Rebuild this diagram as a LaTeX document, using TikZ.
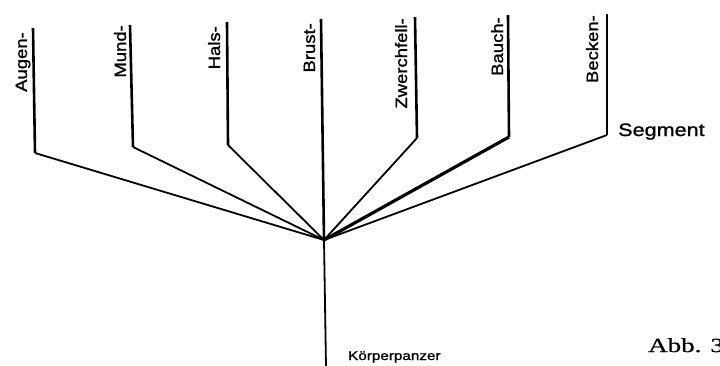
\documentclass[tikz,border=0pt]{standalone}
\usepackage{fontspec}
\newfontfamily\labfont[FakeStretch=1.12,FakeBold=1.2]{Liberation Sans}
\newfontfamily\segfont[FakeStretch=1.2,FakeBold=1.2]{Liberation Sans}
\newfontfamily\abbfont[FakeStretch=1.35,FakeBold=0.8]{Liberation Serif}
\newcommand\lablook{\labfont\fontsize{16.5pt}{18pt}\selectfont}
\newcommand\seglook{\segfont\fontsize{18pt}{20pt}\selectfont}
\newcommand\koerplook{\segfont\fontsize{12.7pt}{15pt}\selectfont}
\newcommand\abblook{\abbfont\fontsize{20pt}{22pt}\selectfont}
\tikzset{
  stem/.style={line width=2.6pt},
  spoke/.style={line width=1.8pt},
  thickspoke/.style={line width=3.2pt},
  seglab/.style={font=\lablook, rotate=90, anchor=base east, inner sep=0pt},
  plainlab/.style={anchor=base west, inner sep=0pt},
}
\begin{document}
\begin{tikzpicture}[x=1pt,y=-1pt]
\useasboundingbox (0,0) rectangle (720,365);
\coordinate (hub) at (324,240);
\coordinate (foot) at (326,367);
\coordinate (augT) at (33,28);  \coordinate (augB) at (35,153);
\coordinate (munT) at (130,25); \coordinate (munB) at (133,147);
\coordinate (halT) at (227,22); \coordinate (halB) at (228,145);
\coordinate (bruT) at (321,19);
\coordinate (zwT) at (415,17);  \coordinate (zwB) at (417,138);
\coordinate (bauT) at (508,15); \coordinate (bauB) at (509,137);
\coordinate (becT) at (607,14); \coordinate (becB) at (607,135);

\draw[stem] (augT) -- (augB);
\draw[stem] (munT) -- (munB);
\draw[stem] (halT) -- (halB);
\draw[stem] (bruT) -- (hub);
\draw[stem] (zwT) -- (zwB);
\draw[stem] (bauT) -- (bauB);
\draw[stem] (becT) -- (becB);
\draw[spoke] (augB) -- (hub);
\draw[spoke] (munB) -- (hub);
\draw[spoke] (halB) -- (hub);
\draw[spoke] (zwB) -- (hub);
\draw[thickspoke] (bauB) -- (hub);
\draw[spoke] (becB) -- (hub);
\draw[spoke] (hub) -- (foot);

\node[seglab] (lAug) at (27,32) {Augen-};
\node[seglab] (lMun) at (126,25) {Mund-};
\node[seglab] (lHal) at (220,26) {Hals-};
\node[seglab] (lBru) at (315,23) {Brust-};
\node[seglab] (lZw) at (407,18) {Zwerchfell-};
\node[seglab] (lBau) at (503,17) {Bauch-};
\node[seglab] (lBec) at (598,15) {Becken-};

\node[plainlab, font=\seglook] (seg) at (618,136) {Segment};
\node[plainlab, font=\koerplook] (koerp) at (348,360) {Körperpanzer};
\node[plainlab, font=\abblook] (abb) at (648,352) {Abb. 3};
\end{tikzpicture}
\end{document}
